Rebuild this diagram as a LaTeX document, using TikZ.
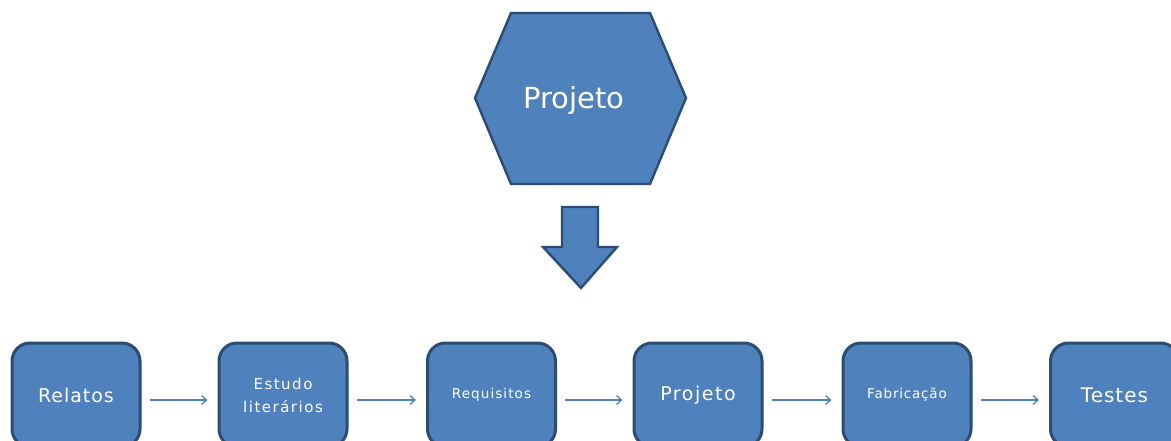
\documentclass[tikz,border=0pt]{standalone}
\usepackage{fontspec}
\setmainfont{DejaVu Sans}
\usetikzlibrary{arrows.meta}
\definecolor{fillblue}{HTML}{4F81BD}
\definecolor{edgeblue}{HTML}{2C4C74}
\tikzset{
  stepbox/.style={draw=edgeblue, fill=fillblue, line width=3pt, rounded corners=18pt,
    minimum width=128pt, minimum height=104pt, text=white, align=center, inner sep=0pt},
  flow/.style={draw=fillblue, line width=1.3pt, -{Straight Barb[length=5pt,width=9pt]},
    shorten <=8pt, shorten >=10pt},
  shapeedge/.style={draw=edgeblue, fill=fillblue, line width=2.4pt, line join=miter},
  whitetext/.style={text=white, inner sep=0pt}
}
\begin{document}
\begin{tikzpicture}[x=1pt,y=-1pt]
\useasboundingbox (0,0) rectangle (1171,441);
\clip (0,0) rectangle (1171,441);

% hexagon
\coordinate (hl) at (475,98);
\coordinate (htl) at (511,13);
\coordinate (htr) at (650,13);
\coordinate (hr) at (686,98);
\coordinate (hbr) at (650,184);
\coordinate (hbl) at (511,184);
\path[shapeedge] (hl) -- (htl) -- (htr) -- (hr) -- (hbr) -- (hbl) -- cycle;
\node[whitetext, font=\fontsize{29}{34}\selectfont] (hex) at (574,101) {Projeto};

% block arrow
\coordinate (a1) at (562,207);
\coordinate (a2) at (598,207);
\coordinate (a3) at (598,247);
\coordinate (a4) at (617,247);
\coordinate (a5) at (581,288);
\coordinate (a6) at (543,247);
\coordinate (a7) at (562,247);
\path[shapeedge] (a1) -- (a2) -- (a3) -- (a4) -- (a5) -- (a6) -- (a7) -- cycle;

% boxes
\node[stepbox, font=\fontsize{19}{23}\selectfont\addfontfeature{LetterSpace=5}] (b1) at (76,395) {Relatos};
\node[stepbox, font=\fontsize{15}{23}\selectfont\addfontfeature{LetterSpace=10}] (b2) at (283,395) {Estudo\\literários};
\node[stepbox, font=\fontsize{13.5}{16}\selectfont\addfontfeature{LetterSpace=8}] (b3) at (491.5,395) {Requisitos};
\node[stepbox, font=\fontsize{19}{23}\selectfont\addfontfeature{LetterSpace=8}] (b4) at (698,395) {Projeto};
\node[stepbox, font=\fontsize{13.5}{16}\selectfont\addfontfeature{LetterSpace=6}] (b5) at (907,395) {Fabricação};
\node[stepbox, font=\fontsize{20}{24}\selectfont\addfontfeature{LetterSpace=5}] (b6) at (1114.5,395) {Testes};

% connectors
\draw[flow] ([yshift=-5pt]b1.east) -- ([yshift=-5pt]b2.west);
\draw[flow] ([yshift=-5pt]b2.east) -- ([yshift=-5pt]b3.west);
\draw[flow] ([yshift=-5pt]b3.east) -- ([yshift=-5pt]b4.west);
\draw[flow] ([yshift=-5pt]b4.east) -- ([yshift=-5pt]b5.west);
\draw[flow] ([yshift=-5pt]b5.east) -- ([yshift=-5pt]b6.west);
\end{tikzpicture}
\end{document}
